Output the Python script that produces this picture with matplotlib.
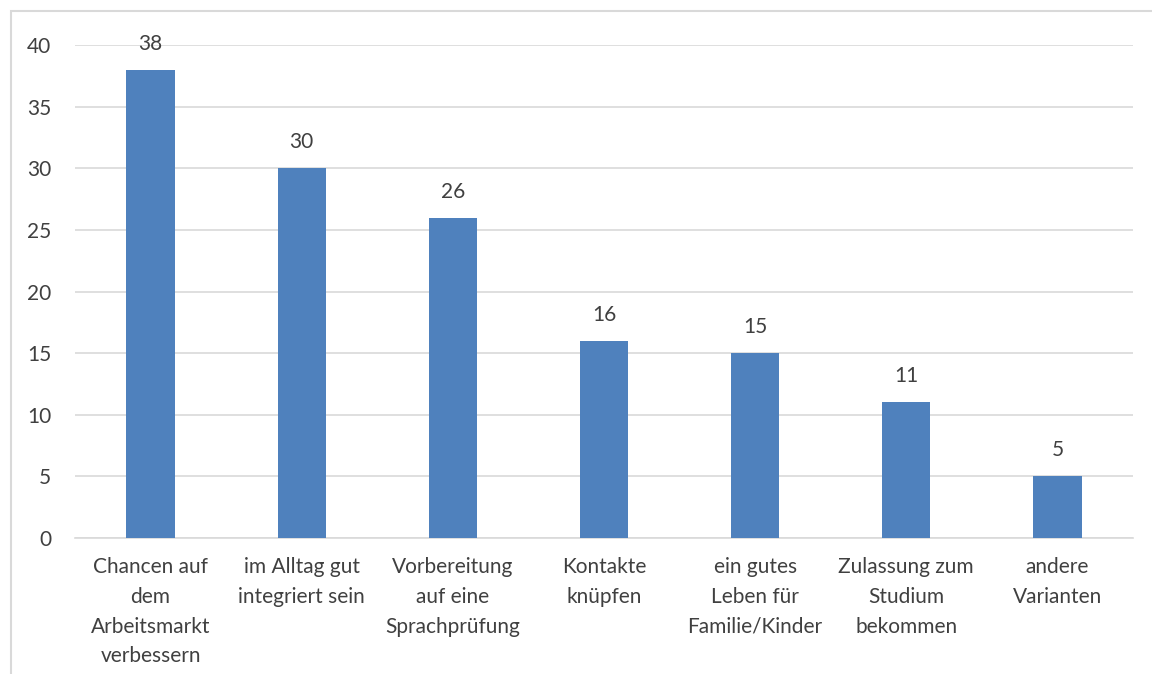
import matplotlib
matplotlib.use('Agg')
import matplotlib.pyplot as plt
from matplotlib.patches import Rectangle

# Daten
kategorien = ['Chancen auf\ndem\nArbeitsmarkt\nverbessern',
              'im Alltag gut\nintegriert sein',
              'Vorbereitung\nauf eine\nSprachprüfung',
              'Kontakte\nknüpfen',
              'ein gutes\nLeben für\nFamilie/Kinder',
              'Zulassung zum\nStudium\nbekommen',
              'andere\nVarianten']
werte = [38, 30, 26, 16, 15, 11, 5]
y_ticks = [0, 5, 10, 15, 20, 25, 30, 35, 40]

plt.rcParams['font.family'] = ['Lato', 'DejaVu Sans']
textfarbe = '#404040'

fig = plt.figure(figsize=(11.52, 6.74), dpi=100)
ax = fig.add_axes([0.0651, 0.2018, 0.9184, 0.7314])

# Rahmen des Diagrammbereichs (rechts/unten abgeschnitten)
fig.patches.append(Rectangle((11/1152, -0.1), 1.2, 1 - 11/674 + 0.1,
                             transform=fig.transFigure, fill=False,
                             edgecolor='#D9D9D9', linewidth=1.5))

x = range(len(werte))
bars = ax.bar(x, werte, width=0.32, color='#4F81BD', zorder=3)
for xi, v in zip(x, werte):
    ax.text(xi, v + 1.3, str(v), ha='center', va='bottom', fontsize=15, color=textfarbe)

ax.set_xlim(-0.5, len(werte) - 0.5)
ax.set_ylim(0, 40)
ax.set_yticks(y_ticks)
ax.set_xticks(list(x))
ax.set_xticklabels(kategorien, fontsize=15, color=textfarbe, linespacing=1.6)
ax.tick_params(axis='y', labelsize=15, labelcolor=textfarbe, length=0, pad=17)
ax.tick_params(axis='x', length=0, pad=14)
ax.grid(axis='y', color='#D9D9D9', linewidth=1.2, zorder=0)
for s in ['top', 'right', 'left']:
    ax.spines[s].set_visible(False)
ax.spines['bottom'].set_color('#D9D9D9')
ax.spines['bottom'].set_linewidth(1.2)

plt.savefig('out.png', dpi=100)
